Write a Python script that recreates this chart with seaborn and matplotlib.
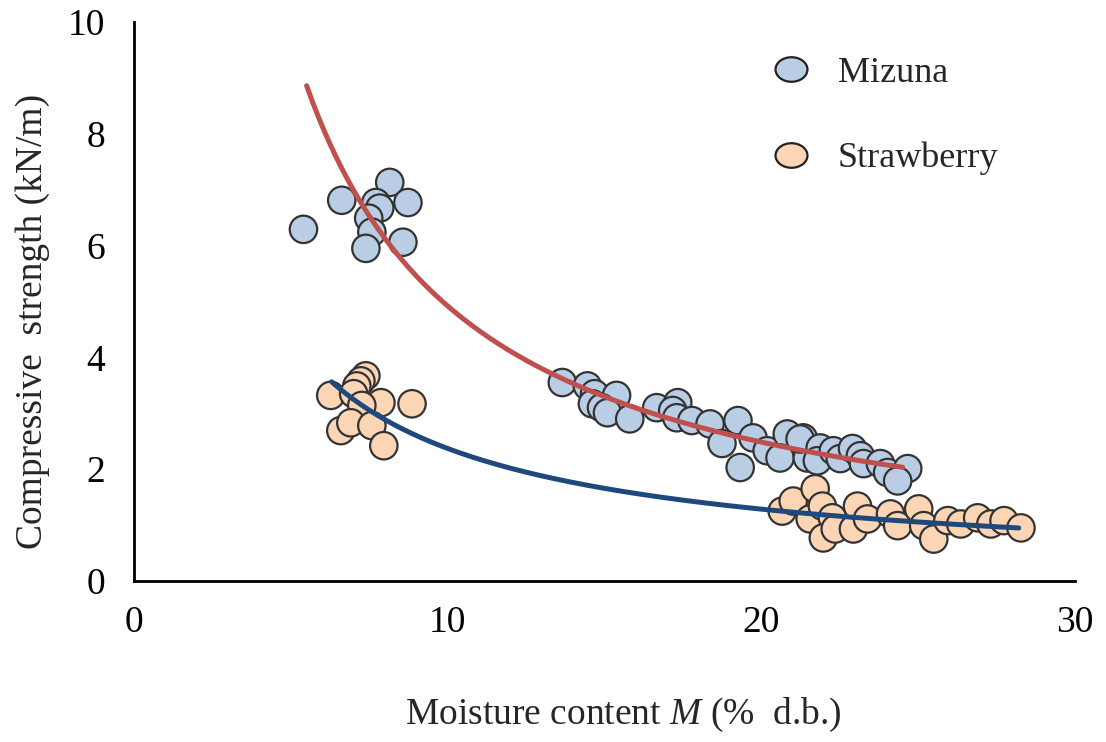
import numpy as np
import pandas as pd
import matplotlib
matplotlib.use("Agg")
import matplotlib.pyplot as plt
import seaborn as sns
from matplotlib.lines import Line2D
from matplotlib.path import Path

# Measured points: moisture content (% d.b.) and compressive strength (kN/m)
mizuna_m = [5.40, 6.62, 8.15, 8.73, 7.71, 7.83, 7.48, 7.58, 7.39, 8.57,
            13.65, 14.45, 14.68, 15.38, 14.61, 14.90, 15.09, 15.80, 16.66,
            17.33, 17.17, 17.30, 17.78, 18.36, 18.74, 19.25, 19.32, 19.73,
            20.18, 20.82, 20.59, 21.33, 21.46, 21.23, 21.87, 21.78, 22.29,
            22.51, 22.90, 23.15, 23.25, 23.79, 24.02, 24.66, 24.34]
mizuna_s = [6.29, 6.81, 7.13, 6.77, 6.77, 6.67, 6.49, 6.24, 5.95, 6.06,
            3.55, 3.49, 3.35, 3.32, 3.17, 3.10, 3.01, 2.90, 3.10,
            3.19, 3.05, 2.92, 2.87, 2.81, 2.46, 2.87, 2.03, 2.56,
            2.33, 2.63, 2.20, 2.56, 2.20, 2.54, 2.38, 2.15, 2.33,
            2.19, 2.37, 2.24, 2.10, 2.10, 1.94, 2.01, 1.79]

strawberry_m = [6.27, 7.39, 7.23, 7.10, 7.00, 7.87, 8.86, 7.26, 6.59, 6.91,
                7.58, 7.96,
                20.66, 21.01, 21.71, 21.55, 21.94, 22.26, 21.97, 22.35, 22.93,
                23.06, 23.38, 24.11, 24.34, 25.01, 25.17, 25.49, 25.94, 26.35,
                26.89, 27.31, 27.73, 28.27]
strawberry_s = [3.32, 3.67, 3.58, 3.49, 3.35, 3.19, 3.17, 3.14, 2.69, 2.83,
                2.78, 2.42,
                1.25, 1.43, 1.65, 1.11, 1.34, 1.13, 0.77, 0.93, 0.93,
                1.34, 1.11, 1.20, 0.99, 1.29, 0.99, 0.75, 1.08, 1.02,
                1.13, 1.02, 1.08, 0.95]

# Power-law fits  S = a * M^b
mizuna_fit = {"a": 47.5, "b": -0.985, "m_min": 5.5, "m_max": 24.5}
strawberry_fit = {"a": 18.1, "b": -0.883, "m_min": 6.3, "m_max": 28.2}

x_ticks = [0, 10, 20, 30]
y_ticks = [0, 2, 4, 6, 8, 10]

fill = {"Mizuna": "#B9CDE5", "Strawberry": "#FCD5B5"}
line_color = {"Mizuna": "#C0504D", "Strawberry": "#1F497D"}

df = pd.DataFrame({
    "M": mizuna_m + strawberry_m,
    "S": mizuna_s + strawberry_s,
    "crop": ["Mizuna"] * len(mizuna_m) + ["Strawberry"] * len(strawberry_m),
})

sns.set_theme(style="white")
plt.rcParams["font.family"] = ["Liberation Serif", "DejaVu Serif"]
plt.rcParams["mathtext.fontset"] = "custom"
plt.rcParams["mathtext.it"] = "Liberation Serif:italic"
plt.rcParams["mathtext.rm"] = "Liberation Serif"

fig = plt.figure(figsize=(11.06, 7.42), dpi=100)
ax = fig.add_axes([0.1212, 0.217, 0.851, 0.7534])

sns.scatterplot(data=df, x="M", y="S", hue="crop", palette=fill, s=390,
                edgecolor="#333333", linewidth=1.6, ax=ax, legend=False,
                zorder=2)

for name, fit in (("Mizuna", mizuna_fit), ("Strawberry", strawberry_fit)):
    mm = np.linspace(fit["m_min"], fit["m_max"], 200)
    curve = pd.DataFrame({"M": mm, "S": fit["a"] * mm ** fit["b"]})
    sns.lineplot(data=curve, x="M", y="S", color=line_color[name],
                 linewidth=3.6, ax=ax, zorder=3)

ax.set_xlim(0, 30)
ax.set_ylim(0, 10)
ax.set_xticks(x_ticks)
ax.set_yticks(y_ticks)
ax.tick_params(axis="both", direction="inout", length=14, width=1.6,
               labelsize=27, colors="black")
ax.tick_params(axis="x", pad=11)
ax.tick_params(axis="y", pad=14)
for side in ("top", "right"):
    ax.spines[side].set_visible(False)
for side in ("left", "bottom"):
    ax.spines[side].set_color("black")
    ax.spines[side].set_linewidth(2.0)

ax.set_xlabel(r"Moisture content $M$ (%  d.b.)", fontsize=27)
ax.set_ylabel("Compressive  strength (kN/m)", fontsize=27)
ax.xaxis.set_label_coords(0.52, -0.205)
ax.yaxis.set_label_coords(-0.089, 0.465)

# Slightly flattened circle for the legend keys
circle = Path.unit_circle()
ellipse = Path(circle.vertices * np.array([1.3, 1.0]), circle.codes)

handles = [Line2D([], [], linestyle="none", marker=ellipse, markersize=23,
                  markerfacecolor=fill[k], markeredgecolor="#222222",
                  markeredgewidth=1.6, label=k) for k in ("Mizuna", "Strawberry")]
ax.legend(handles=handles, loc="upper left", bbox_to_anchor=(0.663, 0.964),
          frameon=False, fontsize=26, labelspacing=1.44, handlelength=1.0,
          handletextpad=0.8, borderaxespad=0)

fig.savefig("out.png", dpi=100)
